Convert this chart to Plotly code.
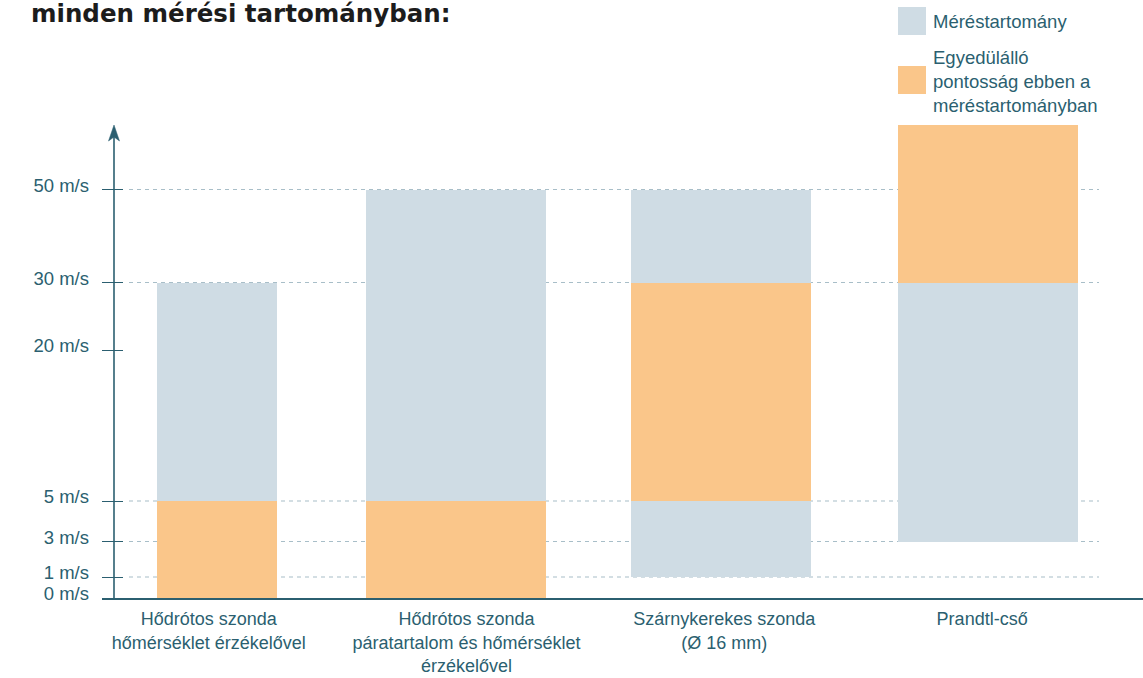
import numpy as np
import plotly.graph_objects as go

# ---------------- data ----------------
instruments = [
    "Hődrótos szonda<br>hőmérséklet érzékelővel",
    "Hődrótos szonda<br>páratartalom és hőmérséklet<br>érzékelővel",
    "Szárnykerekes szonda<br>(Ø 16 mm)",
    "Prandtl-cső",
]
range_low = [0, 0, 1, 3]          # Méréstartomány (m/s)
range_high = [30, 50, 50, 100]
acc_low = [0, 0, 5, 30]           # Egyedülálló pontosság (m/s)
acc_high = [5, 5, 30, 100]

tick_values = [0, 1, 3, 5, 20, 30, 50]
tick_labels = ["0 m/s", "1 m/s", "3 m/s", "5 m/s", "20 m/s", "30 m/s", "50 m/s"]
grid_values = [1, 3, 5, 30, 50]

series_names = ["Méréstartomány", "Egyedülálló<br>pontosság ebben a<br>méréstartományban"]
title_text = "minden mérési tartományban:"

# ---------------- schematic (non-linear) y scale ----------------
SCALE_VALUES = [0, 1, 3, 5, 20, 30, 50, 100]
SCALE_POS = [0, 21, 56.5, 97, 248, 315.5, 408.5, 473]


def ypos(v):
    return np.interp(v, SCALE_VALUES, SCALE_POS)


# ---------------- style ----------------
GRAY = "#cfdce4"
ORANGE = "#fac68a"
TEAL = "#2b5f70"
GRID = "#a8bec8"
FONT = "Liberation Sans, Arial, sans-serif"
FS = 18.5
FSX = 18

W, H = 1143, 678
ML, MR, MT, MB = 102, 0, 120, 80
PW, PH = W - ML - MR, H - MT - MB


def px(x):
    return (x - ML) / PW


def py(y):
    return (H - MB - y) / PH


bar_widths = [0.4655, 0.698, 0.698, 0.698]
bar_offsets = [-0.201, -0.390, -0.362, -0.327]

fig = go.Figure()
fig.add_trace(go.Bar(
    x=instruments,
    base=ypos(range_low),
    y=ypos(range_high) - ypos(range_low),
    width=bar_widths, offset=bar_offsets,
    marker=dict(color=GRAY, line=dict(width=0)),
    name="Méréstartomány",
    showlegend=False,
    hoverinfo="skip",
))
fig.add_trace(go.Bar(
    x=instruments,
    base=ypos(acc_low),
    y=ypos(acc_high) - ypos(acc_low),
    width=bar_widths, offset=bar_offsets,
    marker=dict(color=ORANGE, line=dict(width=0)),
    name="Egyedülálló pontosság",
    showlegend=False,
    hoverinfo="skip",
))

shapes = []
# dashed gridlines
for g in grid_values:
    yy = float(ypos(g))
    shapes.append(dict(type="line", xref="paper", yref="y", x0=px(129), x1=px(1099),
                       y0=yy, y1=yy, layer="below",
                       line=dict(color=GRID, width=1.2, dash="4px,4px")))
# y axis line
shapes.append(dict(type="line", xref="paper", yref="paper", x0=px(114), x1=px(114),
                   y0=py(598), y1=py(132), line=dict(color=TEAL, width=1.6)))
# arrow head
shapes.append(dict(type="path", xref="paper", yref="paper",
                   path=f"M {px(108.5)},{py(141)} L {px(114)},{py(125)} L {px(119.5)},{py(141)} L {px(114)},{py(137)} Z",
                   fillcolor=TEAL, line=dict(color=TEAL, width=0.5)))

# legend squares + labels
legend_colors = [GRAY, ORANGE]
legend_sq_top = [7, 66]
legend_text_y = [21, 81]
annotations = []
for c, t, ty, name in zip(legend_colors, legend_sq_top, legend_text_y, series_names):
    shapes.append(dict(type="rect", xref="paper", yref="paper", x0=px(898), x1=px(926),
                       y0=py(t + 28), y1=py(t), fillcolor=c, line=dict(width=0)))
    annotations.append(dict(xref="paper", yref="paper", x=px(931), y=py(ty), text=name,
                            showarrow=False, xanchor="left", yanchor="middle", align="left",
                            font=dict(family=FONT, size=FS, color=TEAL)))

annotations.append(dict(xref="paper", yref="paper", x=px(29), y=py(14), text=f"<b>{title_text}</b>",
                        showarrow=False, xanchor="left", yanchor="middle",
                        font=dict(family="DejaVu Sans, sans-serif", size=24.5, color="#1c1c1c")))

fig.update_layout(
    width=W, height=H,
    margin=dict(l=ML, r=MR, t=MT, b=MB, pad=0, autoexpand=False),
    paper_bgcolor="white", plot_bgcolor="white",
    barmode="overlay",
    bargap=0,
    showlegend=False,
    shapes=shapes,
    annotations=annotations,
    font=dict(family=FONT, size=FS, color=TEAL),
    xaxis=dict(type="category", range=[-0.414, 3.624], showline=True, linecolor=TEAL,
               linewidth=1.6, ticks="", showgrid=False, zeroline=False, automargin=False,
               tickfont=dict(family=FONT, size=FSX, color=TEAL), ticklabelstandoff=4,
               fixedrange=True),
    yaxis=dict(range=[0, PH], tickvals=list(ypos(tick_values)), ticktext=tick_labels,
               ticks="inside", ticklen=21, tickwidth=1.3, tickcolor=TEAL, automargin=False,
               showline=False, showgrid=False, zeroline=False,
               tickfont=dict(family=FONT, size=FS, color=TEAL),
               ticklabelstandoff=12, ticklabelshift=-4, fixedrange=True),
)

fig.write_html("out.html")
